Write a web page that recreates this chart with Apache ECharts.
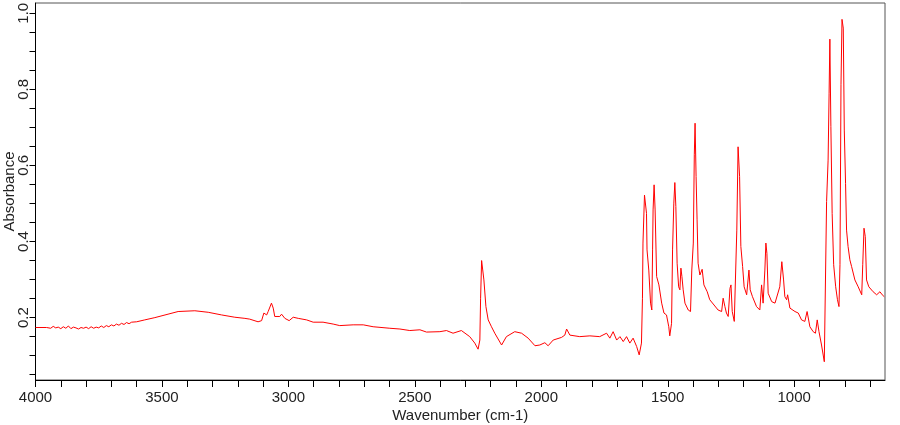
<!DOCTYPE html>
<html>
<head>
<meta charset="utf-8">
<script src="https://cdn.jsdelivr.net/npm/echarts@6/dist/echarts.min.js"></script>
<style>
html,body{margin:0;padding:0;background:#fff;}
#chart{width:900px;height:425px;}
</style>
</head>
<body>
<div id="chart"></div>
<script>
const wavenumber = [4000,3956,3950,3940,3930,3920,3910,3900,3890,3880,3870,3860,3850,3840,3830,3820,3810,3800,3790,3780,3770,3760,3750,3740,3730,3720,3710,3700,3690,3680,3670,3660,3650,3640,3630,3620,3600,3568,3528,3476,3436,3370,3317,3264,3212,3172,3153,3120,3106,3097,3086,3080,3067,3060,3054,3034,3027,3014,2997,2981,2961,2928,2902,2863,2823,2797,2744,2704,2665,2599,2559,2520,2480,2454,2401,2375,2349,2316,2283,2263,2250,2243,2240,2236,2232,2227,2219,2210,2197,2184,2157,2138,2105,2078,2052,2025,2006,1986,1973,1953,1920,1907,1900,1887,1848,1808,1769,1742,1729,1716,1702,1689,1676,1663,1650,1637,1623,1613,1604,1600,1598,1592,1587,1584,1582,1575,1568,1563,1560,1558,1554,1550,1544,1535,1524,1515,1505,1496,1492,1485,1481,1476,1472,1468,1463,1457,1452,1448,1444,1439,1432,1419,1410,1405,1399,1395,1392,1388,1384,1380,1373,1364,1357,1344,1334,1327,1301,1287,1281,1274,1268,1261,1254,1250,1245,1237,1232,1227,1222,1216,1211,1204,1198,1188,1179,1174,1165,1149,1136,1129,1123,1116,1112,1108,1103,1089,1076,1070,1057,1049,1042,1037,1030,1026,1017,997,984,971,958,949,938,925,916,909,902,892,881,876,872,866,862,859,855,850,844,836,829,823,819,815,811,806,802,797,793,787,780,773,760,747,733,729,724,719,714,705,688,674,661,652,644];
const absorbance = [0.174,0.174,0.176,0.172,0.177,0.173,0.175,0.171,0.176,0.172,0.178,0.171,0.175,0.173,0.170,0.174,0.172,0.175,0.171,0.176,0.172,0.175,0.173,0.178,0.174,0.179,0.176,0.181,0.178,0.183,0.180,0.185,0.182,0.187,0.184,0.188,0.189,0.194,0.200,0.209,0.216,0.218,0.214,0.207,0.201,0.198,0.196,0.189,0.192,0.212,0.207,0.216,0.238,0.225,0.203,0.203,0.209,0.198,0.192,0.201,0.198,0.194,0.188,0.188,0.183,0.179,0.181,0.181,0.176,0.172,0.170,0.166,0.168,0.162,0.163,0.166,0.159,0.166,0.150,0.133,0.117,0.141,0.251,0.350,0.347,0.299,0.229,0.194,0.176,0.159,0.128,0.150,0.163,0.159,0.146,0.126,0.128,0.134,0.126,0.141,0.148,0.154,0.170,0.154,0.150,0.152,0.150,0.159,0.146,0.163,0.141,0.150,0.137,0.150,0.133,0.146,0.124,0.102,0.133,0.251,0.396,0.522,0.518,0.474,0.378,0.325,0.238,0.220,0.378,0.483,0.549,0.483,0.308,0.286,0.238,0.212,0.207,0.176,0.152,0.185,0.378,0.501,0.555,0.492,0.343,0.281,0.273,0.330,0.308,0.273,0.238,0.220,0.216,0.325,0.396,0.628,0.711,0.571,0.457,0.343,0.312,0.327,0.286,0.268,0.247,0.243,0.220,0.216,0.251,0.229,0.212,0.203,0.277,0.286,0.216,0.190,0.194,0.430,0.649,0.571,0.387,0.334,0.281,0.260,0.325,0.273,0.255,0.229,0.220,0.286,0.238,0.325,0.396,0.369,0.264,0.242,0.238,0.233,0.281,0.347,0.299,0.255,0.247,0.260,0.225,0.216,0.212,0.194,0.190,0.216,0.176,0.163,0.159,0.194,0.163,0.128,0.084,0.080,0.505,0.614,0.790,0.932,0.702,0.474,0.339,0.281,0.247,0.229,0.339,0.812,0.984,0.961,0.693,0.553,0.430,0.387,0.352,0.334,0.299,0.281,0.260,0.339,0.435,0.413,0.299,0.281,0.268,0.260,0.268,0.260,0.255];

const xTickValues = [4000,3900,3800,3700,3600,3500,3400,3300,3200,3100,3000,2900,2800,2700,2600,2500,2400,2300,2200,2100,2000,1900,1800,1700,1600,1500,1400,1300,1200,1100,1000,900,800,700];
const xLabelValues = [4000,3500,3000,2500,2000,1500,1000];
const yTickValues = [0.05,0.10,0.15,0.20,0.25,0.30,0.35,0.40,0.45,0.50,0.55,0.60,0.65,0.70,0.75,0.80,0.85,0.90,0.95,1.00];
const yLabelValues = [0.2,0.4,0.6,0.8,1.0];

const xAxisTitle = 'Wavenumber (cm-1)';
const yAxisTitle = 'Absorbance';

const seriesData = wavenumber.map((w, i) => [w, absorbance[i]]);
const FONT = '"Liberation Sans", Arial, sans-serif';

const chart = echarts.init(document.getElementById('chart'), null, {renderer: 'canvas'});
chart.setOption({
  animation: false,
  backgroundColor: '#ffffff',
  grid: {left: 35.5, right: 15, top: 3, bottom: 45, containLabel: false, outerBoundsMode: 'none',
         show: true, borderColor: '#555', borderWidth: 1, backgroundColor: 'transparent'},
  xAxis: {
    type: 'value', inverse: true, min: 641, max: 4000,
    name: xAxisTitle, nameLocation: 'middle', nameGap: 28, nameMoveOverlap: false,
    nameTextStyle: {fontFamily: FONT, fontSize: 15, color: '#222'},
    axisLine: {show: true, lineStyle: {color: '#000', width: 1}},
    axisTick: {show: true, length: 7, lineStyle: {color: '#000'}, customValues: xTickValues},
    axisLabel: {show: true, margin: 10, fontFamily: FONT, fontSize: 15, color: '#222', customValues: xLabelValues, formatter: v => String(v)},
    splitLine: {show: false}
  },
  yAxis: {
    type: 'value', min: 0.036, max: 1.027,
    name: yAxisTitle, nameLocation: 'middle', nameGap: 18, nameRotate: 90, nameMoveOverlap: false,
    nameTextStyle: {fontFamily: FONT, fontSize: 15, color: '#222'},
    axisLine: {show: true, lineStyle: {color: '#000', width: 1}},
    axisTick: {show: true, length: 6, lineStyle: {color: '#000'}, customValues: yTickValues},
    axisLabel: {show: true, rotate: 90, margin: 4, fontFamily: FONT, fontSize: 15, color: '#222', customValues: yLabelValues, formatter: v => v.toFixed(1)},
    splitLine: {show: false}
  },
  series: [{
    type: 'line', data: seriesData, showSymbol: false, symbol: 'none',
    lineStyle: {color: '#ff0000', width: 1}, silent: true
  }]
});
</script>
</body>
</html>
